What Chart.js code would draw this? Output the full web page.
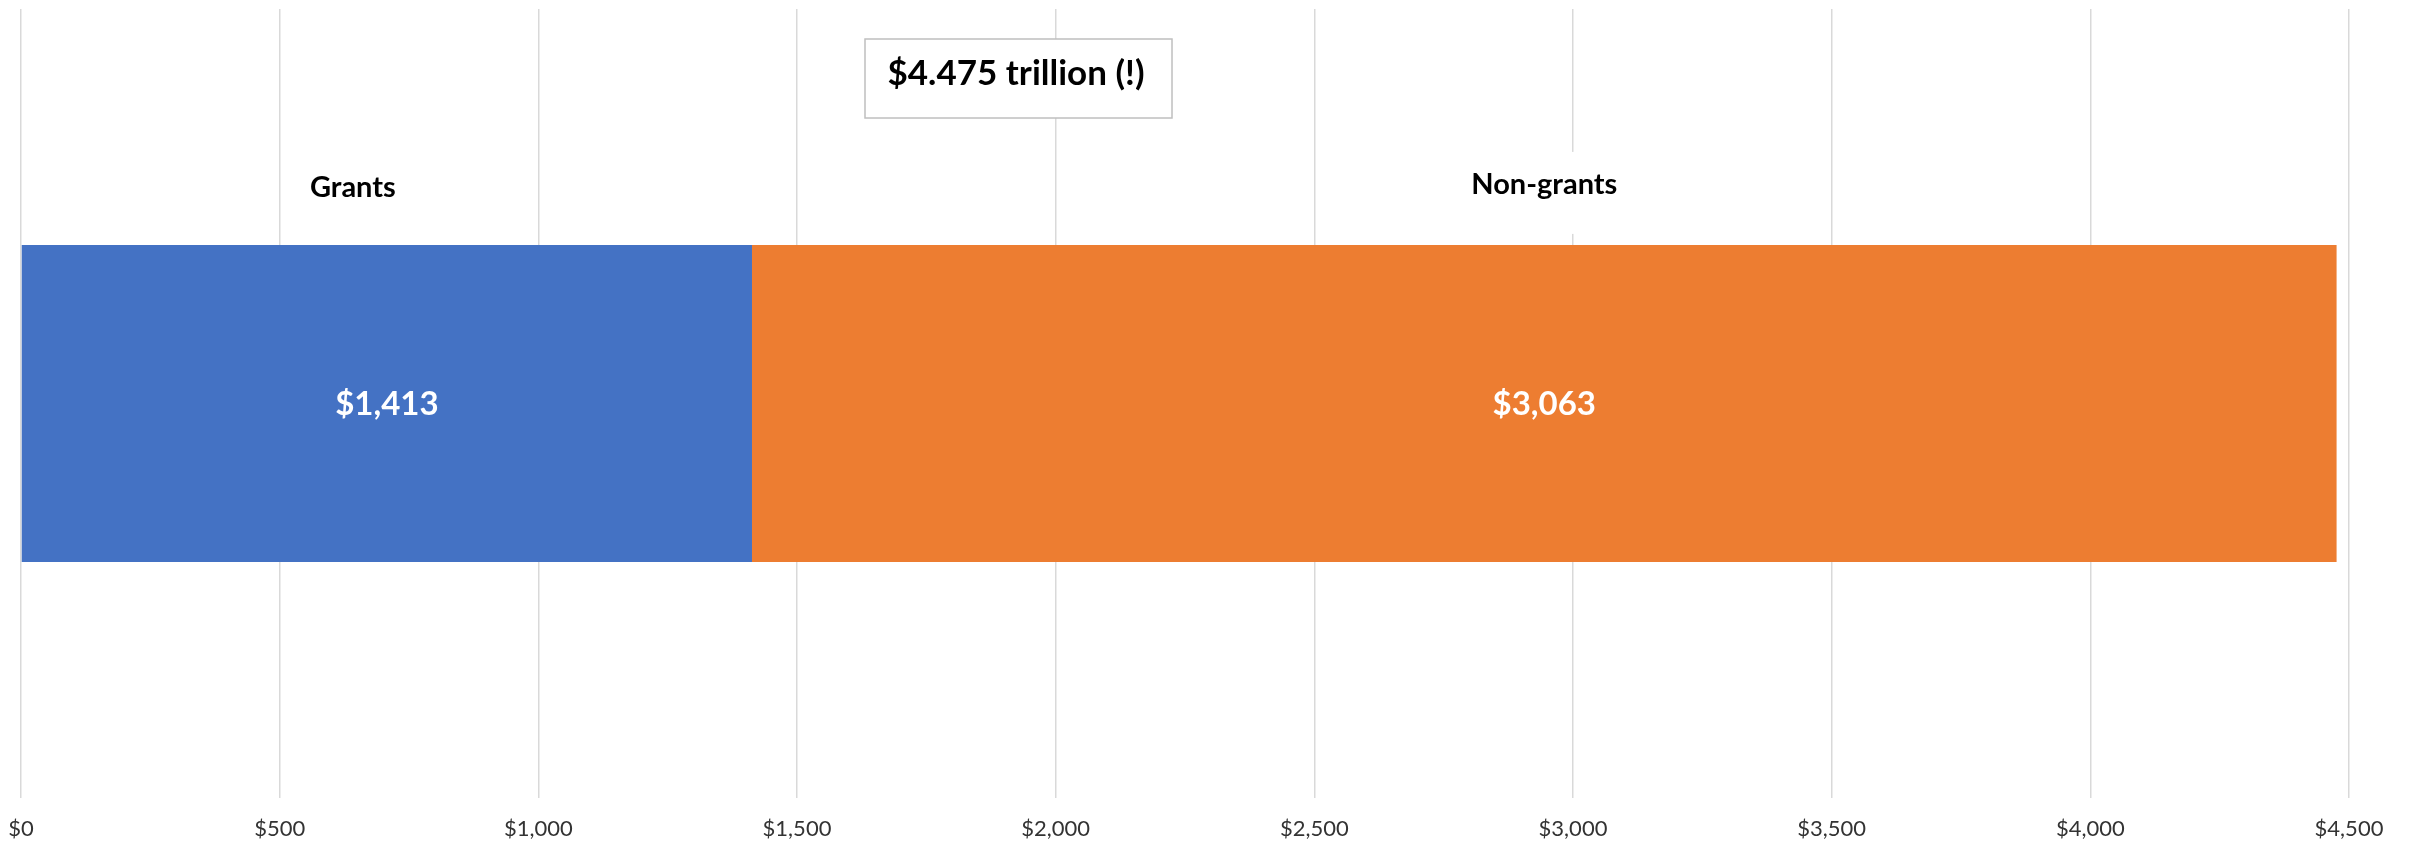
<!DOCTYPE html>
<html>
<head>
<meta charset="utf-8">
<style>
  html, body { margin: 0; padding: 0; background: #fff; }
  #wrap { width: 2412px; height: 845px; }
</style>
<script src="https://cdn.jsdelivr.net/npm/chart.js@4"></script>
</head>
<body>
<div id="wrap"><canvas id="myChart" width="2412" height="845"></canvas></div>
<script>
// --------------
// DATA
// --------------
const categories = ['Grants', 'Non-grants'];
const values = [1413, 3063];
const totalLabel = '$4.475 trillion (!)';
const axisMin = 0;
const axisMax = 4500;
const axisStep = 500;

const barColors = ['#4472C4', '#ED7D31'];
const FONT = 'Lato, "Open Sans", sans-serif';

const fmtMoney = v => '$' + Number(v).toLocaleString('en-US');

// --------------
// LABELS PLUGIN
// --------------
const labelsPlugin = {
  id: 'labelsPlugin',
  afterDatasetsDraw(chart) {
    const ctx = chart.ctx;
    ctx.save();

    chart.data.datasets.forEach((ds, i) => {
      const bar = chart.getDatasetMeta(i).data[0];
      const cx = (bar.base + bar.x) / 2;
      const top = bar.y - bar.height / 2;

      // value inside the bar
      ctx.font = 'bold 33px ' + FONT;
      ctx.fillStyle = '#fff';
      ctx.textAlign = 'center';
      ctx.textBaseline = 'middle';
      ctx.fillText(fmtMoney(ds.data[0]), cx, bar.y + 1);

      // category name above the bar, on a white patch
      const nx = i === 0 ? cx - 34 : cx;
      const ny = i === 0 ? top - 57 : top - 60;
      ctx.font = 'bold 29px ' + FONT;
      const w = ctx.measureText(ds.label).width;
      ctx.fillStyle = '#fff';
      ctx.fillRect(nx - w / 2 - 15, top - 93, w + 30, 82);
      ctx.fillStyle = '#000';
      ctx.fillText(ds.label, nx, ny);
    });

    // total box
    const bx = 865, by = 39, bw = 307, bh = 79;
    ctx.fillStyle = '#fff';
    ctx.fillRect(bx, by, bw, bh);
    ctx.strokeStyle = '#BFBFBF';
    ctx.lineWidth = 1.5;
    ctx.strokeRect(bx, by, bw, bh);
    ctx.font = 'bold 35px ' + FONT;
    ctx.fillStyle = '#000';
    ctx.textAlign = 'center';
    ctx.textBaseline = 'middle';
    ctx.fillText(totalLabel, bx + 151, by + 35);

    ctx.restore();
  }
};

// --------------
// CHART
// --------------
const ctx = document.getElementById('myChart').getContext('2d');

new Chart(ctx, {
  type: 'bar',
  data: {
    labels: [''],
    datasets: categories.map((name, i) => ({
      label: name,
      data: [values[i]],
      backgroundColor: barColors[i],
      borderWidth: 0,
      barPercentage: 0.402,
      categoryPercentage: 1
    }))
  },
  options: {
    indexAxis: 'y',
    responsive: false,
    animation: false,
    layout: { padding: { left: 21, right: 63, top: 9, bottom: 0 } },
    plugins: {
      legend: { display: false },
      tooltip: { enabled: false },
      title: { display: false }
    },
    scales: {
      x: {
        stacked: true,
        min: axisMin,
        max: axisMax,
        afterFit: s => {
          s.height = 47;
          s.paddingLeft = 0;
          s.paddingRight = 0;
        },
        ticks: {
          stepSize: axisStep,
          callback: v => fmtMoney(v),
          color: '#333',
          font: { family: FONT, size: 22 },
          padding: 18,
          maxRotation: 0
        },
        grid: { color: '#D9D9D9', lineWidth: 1.5, drawTicks: false },
        border: { display: false }
      },
      y: {
        stacked: true,
        display: false,
        grid: { display: false }
      }
    }
  },
  plugins: [labelsPlugin]
});
</script>
</body>
</html>
